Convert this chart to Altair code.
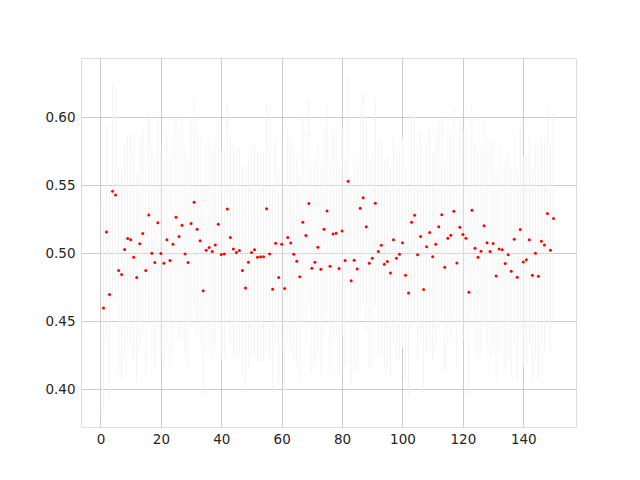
import altair as alt
import pandas as pd

x_vals = list(range(1, 151))

y_vals = [
    0.4598, 0.5157, 0.4696, 0.5456, 0.5429, 0.4873, 0.4843, 0.5027, 0.5108, 0.5100,
    0.4971, 0.4821, 0.5069, 0.5145, 0.4873, 0.5282, 0.5000, 0.4931, 0.5225, 0.4998,
    0.4926, 0.5100, 0.4946, 0.5066, 0.5265, 0.5123, 0.5206, 0.4995, 0.4931, 0.5218,
    0.5375, 0.5176, 0.5091, 0.4725, 0.5022, 0.5042, 0.5012, 0.5061, 0.5213, 0.4990,
    0.4995, 0.5326, 0.5115, 0.5032, 0.5005, 0.5020, 0.4873, 0.4745, 0.4934, 0.5005,
    0.5025, 0.4971, 0.4975, 0.4975, 0.5328, 0.4995, 0.4735, 0.5074, 0.4821, 0.5066,
    0.4740, 0.5115, 0.5076, 0.4993, 0.4941, 0.4828, 0.5228, 0.5130, 0.5365, 0.4890,
    0.4934, 0.5044, 0.4882, 0.5176, 0.5311, 0.4904, 0.5142, 0.5147, 0.4887, 0.5164,
    0.4946, 0.5529, 0.4797, 0.4949, 0.4885, 0.5331, 0.5409, 0.5194, 0.4926, 0.4963,
    0.5368, 0.5012, 0.5059, 0.4919, 0.4939, 0.4855, 0.5100, 0.4963, 0.4993, 0.5078,
    0.4838, 0.4708, 0.5228, 0.5279, 0.4988, 0.5123, 0.4733, 0.5047, 0.5152, 0.4975,
    0.5066, 0.5194, 0.5284, 0.4897, 0.5110, 0.5132, 0.5309, 0.4929, 0.5191, 0.5137,
    0.5110, 0.4713, 0.5316, 0.5037, 0.4971, 0.5015, 0.5203, 0.5078, 0.5012, 0.5071,
    0.4833, 0.5032, 0.5025, 0.4924, 0.4988, 0.4868, 0.5103, 0.4824, 0.5174, 0.4936,
    0.4953, 0.5100, 0.4838, 0.5000, 0.4831, 0.5088, 0.5061, 0.5292, 0.5022, 0.5255,
]

err_vals = [
    0.076, 0.078, 0.077, 0.079, 0.078, 0.076, 0.077, 0.077, 0.076, 0.078,
    0.076, 0.077, 0.077, 0.077, 0.077, 0.077, 0.077, 0.078, 0.077, 0.077,
    0.076, 0.078, 0.077, 0.077, 0.077, 0.077, 0.077, 0.077, 0.077, 0.077,
    0.077, 0.077, 0.077, 0.077, 0.077, 0.077, 0.077, 0.077, 0.077, 0.077,
    0.077, 0.077, 0.077, 0.077, 0.077, 0.077, 0.077, 0.077, 0.077, 0.077,
    0.077, 0.077, 0.077, 0.077, 0.077, 0.077, 0.077, 0.077, 0.077, 0.077,
    0.077, 0.077, 0.077, 0.077, 0.077, 0.077, 0.077, 0.077, 0.077, 0.077,
    0.077, 0.077, 0.077, 0.077, 0.077, 0.077, 0.077, 0.077, 0.077, 0.077,
    0.077, 0.077, 0.077, 0.077, 0.077, 0.077, 0.077, 0.077, 0.077, 0.077,
    0.077, 0.077, 0.077, 0.077, 0.077, 0.077, 0.077, 0.077, 0.077, 0.077,
    0.077, 0.077, 0.077, 0.077, 0.077, 0.077, 0.077, 0.077, 0.077, 0.077,
    0.077, 0.077, 0.077, 0.077, 0.077, 0.077, 0.077, 0.077, 0.077, 0.077,
    0.077, 0.077, 0.077, 0.077, 0.077, 0.077, 0.077, 0.077, 0.077, 0.077,
    0.077, 0.077, 0.077, 0.077, 0.077, 0.077, 0.077, 0.077, 0.077, 0.077,
    0.077, 0.077, 0.077, 0.077, 0.077, 0.077, 0.077, 0.077, 0.077, 0.077,
]

x_ticks = [0, 20, 40, 60, 80, 100, 120, 140]
y_ticks = [0.40, 0.45, 0.50, 0.55, 0.60]

df = pd.DataFrame({"x": x_vals, "y": y_vals, "err": err_vals})

x_scale = alt.Scale(domain=[-6.45, 157.45], nice=False, zero=False)
y_scale = alt.Scale(domain=[0.3722, 0.6436], nice=False, zero=False)

x_axis = alt.Axis(values=x_ticks, title=None, grid=True, gridColor="#cccccc",
                  domain=False, tickColor="#cccccc", tickSize=0, labelPadding=5,
                  labelFont="DejaVu Sans", labelFontSize=13.5, labelColor="#262626")
y_axis = alt.Axis(values=y_ticks, format=".2f", title=None, grid=True, gridColor="#cccccc",
                  domain=False, tickColor="#cccccc", tickSize=0, labelPadding=6,
                  labelFont="DejaVu Sans", labelFontSize=13.5, labelColor="#262626")

base = alt.Chart(df)

bars = base.transform_calculate(
    lo="datum.y - datum.err", hi="datum.y + datum.err"
).mark_rule(color="#f3f3f3", strokeWidth=1).encode(
    x=alt.X("x:Q", scale=x_scale, axis=x_axis),
    y=alt.Y("lo:Q", scale=y_scale, axis=y_axis),
    y2="hi:Q",
)

points = base.mark_circle(color="red", size=9, opacity=1).encode(
    x=alt.X("x:Q", scale=x_scale),
    y=alt.Y("y:Q", scale=y_scale),
)

chart = alt.layer(bars, points).properties(
    width=495, height=369,
    padding={"left": 73, "top": 50, "right": 56, "bottom": 37},
    autosize=alt.AutoSizeParams(type="none"),
).configure_view(stroke="#cccccc", strokeWidth=1).configure(background="white")

chart.save("out.html", embed_options={"renderer": "svg", "actions": False})
